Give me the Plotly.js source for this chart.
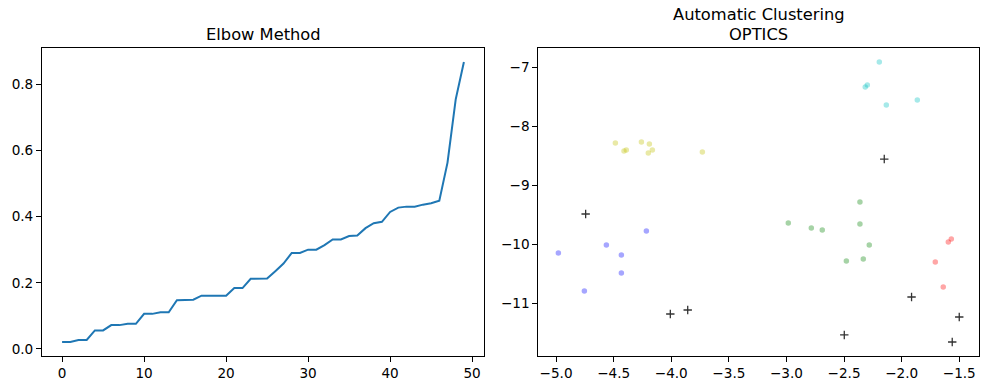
<!DOCTYPE html>
<html>
<head>
<meta charset="utf-8">
<script src="https://cdn.plot.ly/plotly-3.0.1.min.js"></script>
<style>html,body{margin:0;padding:0;background:#fff;}#chart{width:989px;height:390px;}</style>
</head>
<body>
<div id="chart"></div>
<script>
// Elbow method: sorted distances
const elbowValues = [0.021,0.021,0.027,0.027,0.056,0.056,0.072,0.072,0.076,0.076,
  0.106,0.106,0.111,0.111,0.147,0.149,0.149,0.161,0.161,0.161,
  0.161,0.184,0.184,0.212,0.212,0.213,0.235,0.258,0.290,0.290,
  0.300,0.300,0.314,0.331,0.331,0.341,0.343,0.365,0.380,0.384,
  0.414,0.427,0.430,0.430,0.436,0.440,0.448,0.563,0.754,0.867];
const elbowIndex = elbowValues.map((v, i) => i);

// OPTICS clusters
const greenX = [-2.984,-2.784,-2.689,-2.362,-2.362,-2.281,-2.333,-2.480];
const greenY = [-9.641,-9.726,-9.760,-9.286,-9.658,-10.014,-10.251,-10.284];
const redX = [-1.569,-1.595,-1.708,-1.639];
const redY = [-9.912,-9.963,-10.301,-10.725];
const blueX = [-4.980,-4.754,-4.563,-4.433,-4.433,-4.216];
const blueY = [-10.149,-10.792,-10.014,-10.183,-10.488,-9.777];
const yellowX = [-4.485,-4.410,-4.390,-4.259,-4.190,-4.164,-4.199,-3.730];
const yellowY = [-8.287,-8.422,-8.405,-8.270,-8.304,-8.405,-8.456,-8.439];
const cyanX = [-2.194,-2.298,-2.316,-2.133,-1.864];
const cyanY = [-6.915,-7.305,-7.339,-7.643,-7.559];
const noiseX = [-4.743,-4.008,-3.857,-2.151,-1.914,-2.498,-1.500,-1.561];
const noiseY = [-9.489,-11.182,-11.114,-8.558,-10.894,-11.537,-11.233,-11.656];

const xTicksLeft = [0,10,20,30,40,50];
const yTicksLeft = [0.0,0.2,0.4,0.6,0.8];
const xTicksRight = [-5.0,-4.5,-4.0,-3.5,-3.0,-2.5,-2.0,-1.5];
const yTicksRight = [-7,-8,-9,-10,-11];

const W = 989, H = 390;
const fx = p => p / W;
const fy = p => (H - p) / H;

function dot(x, y, color) {
  return {x: x, y: y, xaxis: 'x2', yaxis: 'y2', type: 'scatter', mode: 'markers',
    marker: {color: color, size: 5.5, line: {width: 0}}, hoverinfo: 'none'};
}

const traces = [
  {x: elbowIndex, y: elbowValues, type: 'scatter', mode: 'lines',
   line: {color: '#1f77b4', width: 2}, xaxis: 'x', yaxis: 'y', hoverinfo: 'none'},
  dot(greenX, greenY, 'rgba(0,128,0,0.35)'),
  dot(redX, redY, 'rgba(255,0,0,0.35)'),
  dot(blueX, blueY, 'rgba(0,0,255,0.35)'),
  dot(yellowX, yellowY, 'rgba(191,191,0,0.35)'),
  dot(cyanX, cyanY, 'rgba(0,191,191,0.35)'),
  {x: noiseX, y: noiseY, xaxis: 'x2', yaxis: 'y2', type: 'scatter', mode: 'markers',
   marker: {symbol: 'cross-thin-open', size: 6, color: 'rgba(0,0,0,0.8)',
            line: {width: 1.3, color: 'rgba(0,0,0,0.8)'}}, hoverinfo: 'none'}
];

const tickFont = {family: 'DejaVu Sans', size: 13.6, color: '#000'};
function axis(extra) {
  return Object.assign({
    showline: true, mirror: true, linecolor: '#000', linewidth: 1,
    ticks: 'outside', ticklen: 5, tickwidth: 1, tickcolor: '#000',
    showgrid: false, zeroline: false, tickfont: tickFont, automargin: false,
    tickmode: 'array'
  }, extra);
}

const titleFont = {family: 'DejaVu Sans', size: 16.3, color: '#000'};
const layout = {
  width: W, height: H,
  margin: {l: 0, r: 0, t: 0, b: 0},
  paper_bgcolor: '#fff', plot_bgcolor: '#fff',
  showlegend: false,
  font: {family: 'DejaVu Sans', color: '#000'},
  xaxis: axis({domain: [fx(42), fx(484)], range: [-2.45, 51.45], anchor: 'y',
    tickvals: xTicksLeft, ticktext: xTicksLeft.map(String)}),
  yaxis: axis({domain: [fy(356), fy(48)], range: [-0.0213, 0.9093], anchor: 'x',
    tickvals: yTicksLeft, ticktext: yTicksLeft.map(v => v.toFixed(1))}),
  xaxis2: axis({domain: [fx(538.3), fx(979.3)], range: [-5.154, -1.326], anchor: 'y2',
    tickvals: xTicksRight, ticktext: xTicksRight.map(v => (v < 0 ? '\u2212' : '') + Math.abs(v).toFixed(1))}),
  yaxis2: axis({domain: [fy(356), fy(48)], range: [-11.893, -6.678], anchor: 'x2',
    tickvals: yTicksRight, ticktext: yTicksRight.map(v => (v < 0 ? '\u2212' : '') + Math.abs(v))}),
  annotations: [
    {text: 'Elbow Method', xref: 'paper', yref: 'paper', x: fx(263), y: fy(34),
     xanchor: 'center', yanchor: 'middle', showarrow: false, font: titleFont, borderpad: 0},
    {text: 'Automatic Clustering', xref: 'paper', yref: 'paper', x: fx(758.8), y: fy(14.5),
     xanchor: 'center', yanchor: 'middle', showarrow: false, font: titleFont, borderpad: 0},
    {text: 'OPTICS', xref: 'paper', yref: 'paper', x: fx(758.8), y: fy(34),
     xanchor: 'center', yanchor: 'middle', showarrow: false, font: titleFont, borderpad: 0}
  ]
};

Plotly.newPlot('chart', traces, layout, {staticPlot: true, displayModeBar: false});
</script>
</body>
</html>
